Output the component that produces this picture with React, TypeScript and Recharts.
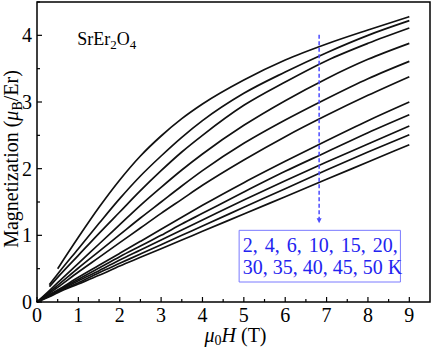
import React from "react";
import {
  LineChart,
  Line,
  XAxis,
  YAxis,
  ReferenceArea,
  ReferenceLine,
  ReferenceDot,
} from "recharts";

const FIELD = [0, 0.3, 0.5, 1, 1.5, 2, 2.5, 3, 3.5, 4, 5, 6, 7, 8, 9];

// one curve per temperature, magnetization in muB/Er
const M_2K = [null, null, 0.5, 0.97, 1.42, 1.83, 2.19, 2.49, 2.75, 2.97, 3.33, 3.63, 3.87, 4.08, 4.28];
const M_4K = [null, 0.26, 0.42, 0.8, 1.18, 1.55, 1.89, 2.19, 2.47, 2.72, 3.13, 3.45, 3.74, 4.0, 4.22];
const M_6K = [null, 0.23, 0.37, 0.7, 1.03, 1.35, 1.67, 1.97, 2.25, 2.5, 2.95, 3.3, 3.62, 3.88, 4.11];
const M_10K = [0, 0.17, 0.29, 0.58, 0.87, 1.16, 1.45, 1.72, 1.98, 2.22, 2.65, 3.02, 3.35, 3.64, 3.88];
const M_15K = [0, 0.15, 0.25, 0.51, 0.76, 1.01, 1.26, 1.5, 1.74, 1.97, 2.38, 2.73, 3.05, 3.35, 3.61];
const M_20K = [0, 0.13, 0.22, 0.45, 0.67, 0.89, 1.11, 1.33, 1.54, 1.75, 2.13, 2.48, 2.8, 3.1, 3.38];
const M_30K = [0, 0.11, 0.18, 0.37, 0.55, 0.73, 0.91, 1.09, 1.27, 1.45, 1.79, 2.11, 2.42, 2.72, 3.0];
const M_35K = [0, 0.1, 0.17, 0.34, 0.51, 0.68, 0.84, 1.0, 1.17, 1.33, 1.65, 1.96, 2.25, 2.54, 2.81];
const M_40K = [0, 0.1, 0.16, 0.32, 0.47, 0.63, 0.78, 0.93, 1.08, 1.23, 1.53, 1.82, 2.1, 2.37, 2.64];
const M_45K = [0, 0.09, 0.15, 0.29, 0.44, 0.58, 0.72, 0.86, 1.0, 1.14, 1.42, 1.7, 1.98, 2.25, 2.51];
const M_50K = [0, 0.08, 0.14, 0.27, 0.4, 0.54, 0.67, 0.8, 0.93, 1.06, 1.32, 1.58, 1.84, 2.1, 2.36];

const SERIES = [
  { key: "t2", values: M_2K },
  { key: "t4", values: M_4K },
  { key: "t6", values: M_6K },
  { key: "t10", values: M_10K },
  { key: "t15", values: M_15K },
  { key: "t20", values: M_20K },
  { key: "t30", values: M_30K },
  { key: "t35", values: M_35K },
  { key: "t40", values: M_40K },
  { key: "t45", values: M_45K },
  { key: "t50", values: M_50K },
];

const X_TICKS = [0, 0.5, 1, 1.5, 2, 2.5, 3, 3.5, 4, 4.5, 5, 5.5, 6, 6.5, 7, 7.5, 8, 8.5, 9];
const Y_TICKS = [0, 0.5, 1, 1.5, 2, 2.5, 3, 3.5, 4, 4.5];

const TEMP_LINE_1 = "2, 4, 6, 10, 15, 20,";
const TEMP_LINE_2 = "30, 35, 40, 45, 50 K";

const FONT = "'Liberation Serif', 'Times New Roman', serif";
const BLUE = "#2323f0";

const data = FIELD.map((x, i) => {
  const row: Record<string, number | null> = { x };
  SERIES.forEach((s) => (row[s.key] = s.values[i]));
  return row;
});

function XTick({ x, y, payload }: any) {
  const major = Number.isInteger(payload.value);
  return (
    <g>
      <line x1={x} x2={x} y1={y} y2={y - (major ? 5 : 3)} stroke="#000" strokeWidth={1.2} />
      {major && (
        <text x={x} y={y + 20} textAnchor="middle" fontSize={20} fontFamily={FONT} fill="#000">
          {payload.value}
        </text>
      )}
    </g>
  );
}

function YTick({ x, y, payload }: any) {
  const major = Number.isInteger(payload.value);
  return (
    <g>
      <line x1={x} x2={x + (major ? 5 : 3)} y1={y} y2={y} stroke="#000" strokeWidth={1.2} />
      {major && (
        <text x={x - 5} y={y + 7} textAnchor="end" fontSize={20} fontFamily={FONT} fill="#000">
          {payload.value}
        </text>
      )}
    </g>
  );
}

export default function App() {
  return (
    <div style={{ position: "absolute", left: 0, top: 0, background: "#fff" }}>
      <LineChart
        width={432}
        height={348}
        data={data}
        margin={{ top: 2, right: 2, bottom: 0, left: 0 }}
      >
        <XAxis
          type="number"
          dataKey="x"
          domain={[0, 9.5]}
          ticks={X_TICKS}
          interval={0}
          height={46}
          axisLine={false}
          tickLine={false}
          tickSize={0}
          tickMargin={0}
          tick={<XTick />}
          label={(p: any) => {
            const vb = p.viewBox;
            return (
              <text x={vb.x + vb.width / 2 + 2} y={vb.y + 40} textAnchor="middle" fontSize={20} fontFamily={FONT} fill="#000">
                <tspan fontStyle="italic">μ</tspan>
                <tspan fontSize={14} dy={3}>0</tspan>
                <tspan fontStyle="italic" dy={-3}>H</tspan>
                <tspan> (T)</tspan>
              </text>
            );
          }}
        />
        <YAxis
          type="number"
          domain={[0, 4.5]}
          ticks={Y_TICKS}
          interval={0}
          width={37}
          axisLine={false}
          tickLine={false}
          tickSize={0}
          tickMargin={0}
          tick={<YTick />}
          label={() => (
            <text
              x={18}
              y={159}
              transform="rotate(-90, 18, 159)"
              textAnchor="middle"
              fontSize={20}
              fontFamily={FONT}
              fill="#000"
            >
              Magnetization (<tspan fontStyle="italic">μ</tspan>
              <tspan fontSize={14} dy={4}>B</tspan>
              <tspan dy={-4}>/Er)</tspan>
            </text>
          )}
        />
        <ReferenceArea x1={0} x2={9.5} y1={0} y2={4.5} fill="none" stroke="#000" strokeWidth={1.5} />
        {SERIES.map((s) => (
          <Line
            key={s.key}
            dataKey={s.key}
            type="monotone"
            stroke="#111"
            strokeWidth={1.7}
            dot={false}
            isAnimationActive={false}
          />
        ))}
        <ReferenceLine
          segment={[
            { x: 6.82, y: 4.01 },
            { x: 6.82, y: 1.24 },
          ]}
          stroke="#4b4bff"
          strokeWidth={1.5}
          strokeDasharray="4 2.5"
        />
        <ReferenceDot
          x={6.82}
          y={1.18}
          r={0}
          shape={(p: any) => (
            <path
              d={`M${p.cx - 2.5},${p.cy - 5} L${p.cx + 2.5},${p.cy - 5} L${p.cx},${p.cy} Z`}
              fill="#4b4bff"
            />
          )}
        />
        <ReferenceDot
          x={0.97}
          y={3.855}
          r={0}
          fill="none"
          stroke="none"
          label={(p: any) => (
            <text x={p.viewBox.x} y={p.viewBox.y} fontSize={18} fontFamily={FONT} fill="#000">
              SrEr<tspan fontSize={13} dy={4}>2</tspan>
              <tspan dy={-4}>O</tspan>
              <tspan fontSize={13} dy={4}>4</tspan>
            </text>
          )}
        />
        <ReferenceArea
          x1={4.886}
          x2={8.785}
          y1={0.3}
          y2={1.075}
          fill="#fff"
          fillOpacity={1}
          stroke="#7a7aff"
          strokeWidth={1}
          label={(p: any) => {
            const vb = p.viewBox;
            return (
              <text fontSize={20} fontFamily={FONT} fill={BLUE}>
                <tspan x={vb.x + 3.5} y={vb.y + 21.5} wordSpacing={2}>
                  {TEMP_LINE_1}
                </tspan>
                <tspan x={vb.x + 3.5} y={vb.y + 44}>
                  {TEMP_LINE_2}
                </tspan>
              </text>
            );
          }}
        />
      </LineChart>
    </div>
  );
}
